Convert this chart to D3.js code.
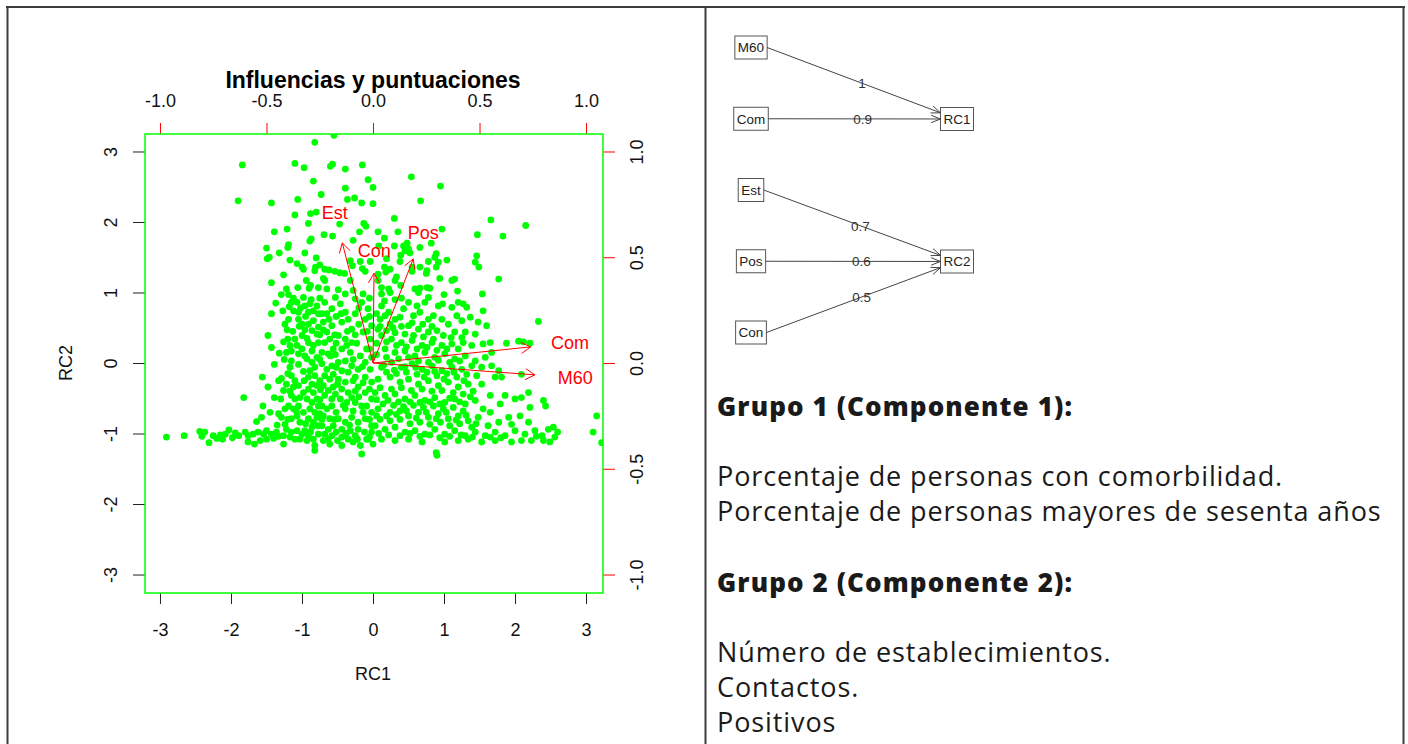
<!DOCTYPE html>
<html><head><meta charset="utf-8">
<script src="https://cdn.jsdelivr.net/npm/d3@7"></script>
<style>body{margin:0;background:#fff}svg{display:block}</style>
</head><body>
<svg id="c" width="1408" height="744"></svg>
<script>
// ---------------- data ----------------
const chartTitle = "Influencias y puntuaciones";
const xTitle = "RC1", yTitle = "RC2";
const scoreTicks = [-3, -2, -1, 0, 1, 2, 3];
const loadTicks = [-1.0, -0.5, 0.0, 0.5, 1.0];
const variables = ["M60", "Com", "Est", "Pos", "Con"];
const loadRC1 = [0.95, 0.925, -0.18, 0.236, 0.006];
const loadRC2 = [-0.07, 0.095, 0.71, 0.615, 0.53];
const factors = ["RC1", "RC2"];
const pathFrom = ["M60", "Com", "Est", "Pos", "Con"];
const pathTo = ["RC1", "RC1", "RC2", "RC2", "RC2"];
const pathWeight = [1, 0.9, 0.7, 0.6, 0.5];
const textLines = ["Grupo 1 (Componente 1):", "", "Porcentaje de personas con comorbilidad.", "Porcentaje de personas mayores de sesenta años", "", "Grupo 2 (Componente 2):", "", "Número de establecimientos.", "Contactos.", "Positivos"];
const textBold = [true, false, false, false, false, true, false, false, false, false];
// scores [RC1, RC2]
const scores = [
[-0.82,3.13],[-0.55,3.23],[-1.84,2.81],[-1.10,2.83],[-0.97,2.77],[-0.60,2.79],[-0.57,2.82],[-0.39,2.75],[-0.15,2.81],[-0.84,2.58],[-0.07,2.60],[-0.39,2.48],[-0.73,2.39],[0.00,2.49],[-1.90,2.30],[-1.43,2.27],[-1.06,2.32],[-0.36,2.32],[-0.26,2.34],[-0.16,2.27],[0.00,2.26],[-1.10,2.10],[-0.88,2.12],[-0.80,2.14],[-0.47,1.97],[-0.13,1.98],[-0.10,1.94],[-0.91,1.98],[-1.39,1.86],[-1.21,1.90],[-0.69,1.82],[-0.57,1.80],[-0.19,1.86],[-0.89,1.73],[-0.87,1.76],[-0.28,1.74],[-1.50,1.63],[-1.19,1.68],[-1.20,1.64],[-1.32,1.56],[-0.96,1.56],[-1.49,1.48],[-1.46,1.50],[-1.17,1.46],[-0.80,1.49],[-1.07,1.41],[-1.00,1.36],[-0.98,1.33],[-1.26,1.25],[-1.43,1.14],[-0.81,1.36],[-0.82,1.31],[-0.75,1.39],[-0.68,1.33],[-0.62,1.32],[-0.54,1.30],[-0.47,1.28],[-0.40,1.27],[-0.32,1.45],[-0.29,1.38],[-0.18,1.44],[-0.15,1.34],[-0.11,1.30],[-0.04,1.44],[-0.70,1.20],[-0.68,1.17],[-0.94,1.17],[-0.88,1.10],[-1.06,1.07],[-1.22,1.05],[-1.29,0.97],[-1.19,0.97],[-0.90,1.06],[-0.77,1.07],[-0.65,1.05],[-0.49,1.04],[-0.32,1.17],[-0.28,1.03],[-0.39,0.98],[-0.14,0.98],
[0.54,2.64],[0.95,2.51],[0.67,2.30],[0.30,2.05],[1.66,2.03],[2.15,1.95],[0.07,1.86],[0.35,1.86],[0.97,1.90],[1.47,1.82],[1.83,1.80],[0.16,1.77],[0.82,1.70],[0.08,1.66],[0.30,1.66],[0.43,1.66],[0.48,1.70],[0.50,1.62],[0.45,1.59],[0.52,1.56],[0.66,1.64],[0.39,1.53],[0.38,1.44],[0.19,1.48],[0.89,1.55],[0.87,1.50],[0.92,1.43],[1.04,1.46],[0.78,1.44],[1.46,1.52],[1.44,1.43],[1.49,1.36],[0.16,1.36],[0.24,1.33],[0.18,1.29],[0.55,1.36],[0.55,1.30],[0.66,1.36],[0.76,1.31],[0.75,1.27],[0.89,1.36],[0.07,1.26],[0.07,1.17],[0.33,1.22],[0.31,1.17],[0.94,1.20],[1.11,1.17],[1.15,1.19],[1.77,1.19],[0.12,1.07],[0.22,1.05],[0.24,1.00],[0.12,0.98],[0.39,1.10],[0.59,1.05],[0.66,1.06],[0.76,1.07],[0.80,1.06],[0.64,1.00],[1.00,0.97],[0.78,0.93],[1.19,1.02],[1.54,0.98],
[-2.91,-1.05],[-2.66,-1.03],[-2.44,-0.97],[-2.37,-0.98],[-2.41,-1.04],[-2.31,-1.13],[-2.25,-1.03],[-2.15,-1.02],[-2.08,-1.01],[-2.12,-1.08],[-2.03,-0.95],[-1.94,-0.99],[-1.89,-1.03],[-1.80,-0.98],[-1.76,-1.03],[-1.69,-1.01],[-1.62,-0.98],[-1.54,-1.01],[-1.50,-0.96],[-1.43,-1.01],[-1.36,-0.98],[-1.33,-1.04],[-1.26,-1.03],[-1.82,-0.49],[-1.64,-0.83],[-1.57,-0.77],[-1.76,-1.12],[-1.67,-1.15],[-1.59,-1.10],[-1.55,-0.61],[-1.56,-0.20],[-1.48,-0.34],[-1.48,0.39],[-1.43,0.70],[-1.43,0.22],[-1.37,0.85],[-1.39,-0.02],[-1.39,-0.49],[-1.32,0.14],[-1.33,-0.25],[-1.29,-0.22],[-1.26,-0.39],[-1.27,0.74],[-1.24,0.55],[-1.21,0.47],[-1.20,0.34],[-1.22,0.15],[-1.15,0.17],[-1.17,-0.06],[-1.15,0.03],[-1.30,-0.51],[-1.24,-0.65],[-1.33,-0.72],[-1.29,-0.77],[-1.24,-0.87],[-1.26,-1.15],[-1.15,0.86],[-1.07,0.86],[-1.12,0.74],[-1.05,0.72],[-1.05,0.62],[-1.00,0.55],[-1.04,0.52],[-1.10,0.34],[-1.00,0.39],[-1.07,0.25],[-1.00,0.20],[-1.05,0.13],[-1.15,-0.18],[-1.10,-0.25],[-1.12,-0.34],[-1.05,-0.32],[-1.15,-0.46],[-1.10,-0.51],[-1.03,-0.49],[-1.19,-0.61],[-1.12,-0.65],[-1.05,-0.61],[-1.15,-0.79],[-1.07,-0.75],[-1.03,-0.84],[-1.22,-0.94],[-1.15,-0.98],[-1.07,-0.96],[-1.00,-1.01],[-0.96,-0.96],
[-0.96,0.81],[-0.89,0.84],[-0.91,0.72],[-0.84,0.74],[-0.79,0.81],[-0.77,0.70],[-0.91,0.55],[-0.84,0.60],[-0.86,0.46],[-0.77,0.51],[-0.79,0.41],[-0.91,0.29],[-0.84,0.25],[-0.77,0.29],[-0.86,0.17],[-0.93,0.06],[-0.86,0.01],[-0.79,0.08],[-0.82,-0.06],[-0.89,-0.11],[-0.91,-0.20],[-0.82,-0.18],[-0.86,-0.30],[-0.79,-0.32],[-0.91,-0.37],[-0.84,-0.42],[-0.93,-0.51],[-0.86,-0.56],[-0.79,-0.51],[-0.89,-0.65],[-0.82,-0.70],[-0.77,-0.61],[-0.91,-0.79],[-0.84,-0.84],[-0.79,-0.77],[-0.86,-0.91],[-0.77,-0.89],[-0.91,-1.03],[-0.84,-1.08],[-0.77,-1.01],[-0.82,-1.17],[-0.82,-1.24],
[-0.68,0.86],[-0.65,0.70],[-0.58,0.77],[-0.70,0.58],[-0.58,0.53],[-0.65,0.44],[-0.68,0.29],[-0.61,0.34],[-0.72,0.15],[-0.63,0.13],[-0.56,0.20],[-0.72,-0.01],[-0.65,-0.09],[-0.58,-0.04],[-0.68,-0.18],[-0.61,-0.23],[-0.56,-0.16],[-0.70,-0.32],[-0.63,-0.39],[-0.56,-0.34],[-0.68,-0.46],[-0.58,-0.51],[-0.72,-0.61],[-0.65,-0.65],[-0.58,-0.61],[-0.70,-0.75],[-0.61,-0.79],[-0.72,-0.89],[-0.63,-0.94],[-0.56,-0.89],[-0.68,-1.01],[-0.58,-1.03],[-0.61,-1.15],
[-0.46,0.84],[-0.39,0.72],[-0.44,0.58],[-0.35,0.62],[-0.30,0.48],[-0.49,0.39],[-0.39,0.34],[-0.30,0.29],[-0.44,0.20],[-0.32,0.15],[-0.49,0.01],[-0.39,0.03],[-0.30,-0.04],[-0.44,-0.11],[-0.35,-0.13],[-0.21,-0.09],[-0.49,-0.23],[-0.39,-0.27],[-0.28,-0.25],[-0.44,-0.37],[-0.35,-0.42],[-0.21,-0.34],[-0.46,-0.51],[-0.37,-0.56],[-0.30,-0.49],[-0.39,-0.65],[-0.28,-0.68],[-0.16,-0.61],[-0.49,-0.79],[-0.39,-0.84],[-0.30,-0.77],[-0.21,-0.84],[-0.44,-0.94],[-0.32,-0.96],[-0.21,-0.94],[-0.44,-1.05],[-0.35,-1.08],[-0.25,-1.03],[-0.44,-1.17],[-0.18,-1.17],[-0.16,-1.29],[-0.09,-1.08],
[-0.16,0.86],[-0.07,0.77],[-0.11,0.62],[-0.02,0.53],[-0.14,0.44],[-0.04,0.34],[-0.09,0.20],[-0.02,0.08],[-0.11,0.01],[-0.04,-0.09],[-0.11,-0.20],[-0.02,-0.27],[-0.11,-0.42],[-0.02,-0.51],[-0.09,-0.61],[-0.02,-0.70],[-0.11,-0.79],[-0.02,-0.89],[-0.02,-0.98],[-0.07,-1.08],[0.00,-1.15],
[-1.12,0.92],[-0.98,0.93],[-0.75,0.92],[-0.53,0.93],[-0.25,0.91],[-0.05,0.92],[-1.19,0.62],[-0.95,0.66],[-0.72,0.70],[-0.52,0.66],[-0.25,0.70],[-0.05,0.66],[-1.17,0.25],[-0.96,0.10],[-0.75,0.40],[-0.52,0.28],[-0.25,0.40],[-0.18,0.10],[-1.22,-0.30],[-0.98,-0.12],[-0.75,-0.25],[-0.52,-0.06],[-0.25,-0.20],[-0.05,-0.37],[-1.20,-0.80],[-0.98,-0.70],[-0.75,-0.72],[-0.52,-0.70],[-0.25,-0.56],[-0.05,-0.80],[-1.10,-1.08],[-0.93,-1.10],[-0.70,-1.10],[-0.52,-0.98],[-0.28,-1.12],[-0.12,-0.98],[-1.35,-0.88],[-1.45,-0.70],
[-1.18,0.80],[-1.02,0.78],[-0.87,0.90],[-0.62,0.62],[-0.45,0.70],[-0.20,0.78],[-0.08,0.45],[-1.13,0.45],[-0.96,0.47],[-0.70,0.47],[-0.54,0.40],[-0.36,0.45],[-0.20,0.55],[-1.26,0.30],[-0.93,0.35],[-0.60,0.10],[-0.37,0.25],[-0.23,0.28],[-0.05,0.20],[-1.25,0.05],[-1.05,-0.02],[-0.75,0.05],[-0.53,0.12],[-0.28,0.05],[-0.15,-0.05],[-1.20,-0.15],[-0.97,-0.25],[-0.74,-0.38],[-0.50,-0.30],[-0.25,-0.40],[-0.14,-0.28],[-1.17,-0.40],[-0.98,-0.42],[-0.75,-0.52],[-0.53,-0.44],[-0.42,-0.60],[-0.20,-0.48],[-1.08,-0.68],[-0.95,-0.86],[-0.72,-0.80],[-0.54,-0.80],[-0.33,-0.88],[-0.14,-0.70],[-1.17,-1.05],[-1.03,-1.08],[-0.88,-0.98],[-0.63,-1.08],[-0.50,-1.10],[-0.38,-1.00],[-0.22,-1.08],[-0.05,-1.05],[-1.40,-1.07],[-1.50,-1.08],[-1.98,-1.06],[-2.20,-1.07],
[2.33,0.59],[1.88,0.28],[2.05,0.31],[2.12,0.30],[2.21,0.28],[3.15,-0.75],[3.10,-0.98],[3.22,-1.13],[0.89,-1.27],[0.90,-1.31],[0.92,0.81],[1.11,0.79],[1.27,0.84],[1.32,0.79],[1.55,0.74],[0.73,0.86],[0.66,0.72],[0.78,0.62],[0.85,0.67],[0.50,0.86],[0.43,0.77],[0.38,0.65],[0.12,0.81],[0.22,0.72],[0.10,0.62],[0.24,0.55],[0.97,0.62],[1.06,0.55],[1.18,0.67],[1.25,0.60],[1.37,0.65],[1.48,0.58],[1.60,0.53],[0.50,0.53],[0.64,0.48],[0.78,0.44],[0.90,0.46],[0.99,0.39],[1.15,0.44],[1.30,0.44],[1.44,0.41],[0.12,0.39],[0.26,0.34],[0.40,0.29],[0.55,0.32],[0.69,0.25],[0.83,0.29],[0.97,0.25],[1.11,0.27],[1.27,0.29],[1.39,0.25],[1.55,0.27],[1.65,0.29],[0.17,0.20],[0.31,0.15],[0.45,0.17],[0.59,0.10],[0.73,0.15],[0.87,0.08],[1.01,0.13],[1.15,0.06],[1.30,0.10],[1.44,0.03],[1.58,0.08],[1.67,0.15],
[0.12,-0.06],[0.26,0.01],[0.40,-0.06],[0.55,-0.01],[0.69,-0.09],[0.83,-0.04],[0.97,-0.11],[1.11,-0.06],[1.25,-0.09],[1.39,-0.04],[1.53,-0.06],[1.67,-0.04],[1.77,-0.11],[1.72,-0.20],[1.81,-0.20],[2.09,-0.16],
[0.07,-0.23],[0.24,-0.20],[0.38,-0.27],[0.50,-0.23],[0.64,-0.30],[0.78,-0.25],[0.92,-0.32],[1.06,-0.27],[1.20,-0.34],[1.34,-0.30],[1.53,-0.30],
[0.03,-0.42],[0.17,-0.46],[0.31,-0.44],[0.45,-0.51],[0.59,-0.46],[0.73,-0.53],[0.87,-0.49],[1.01,-0.56],[1.15,-0.51],[1.30,-0.58],[1.44,-0.53],[1.65,-0.46],[1.86,-0.46],[2.00,-0.51],[2.09,-0.49],[2.19,-0.42],[2.40,-0.53],[2.43,-0.61],
[0.07,-0.65],[0.24,-0.70],[0.38,-0.68],[0.50,-0.75],[0.64,-0.70],[0.78,-0.77],[0.92,-0.72],[1.06,-0.79],[1.20,-0.75],[1.34,-0.82],[1.48,-0.77],[1.65,-0.70],[1.77,-0.84],[1.91,-0.77],[2.07,-0.75],[2.21,-0.63],
[0.03,-0.89],[0.17,-0.94],[0.31,-0.91],[0.45,-0.98],[0.59,-0.96],[0.73,-1.01],[0.87,-0.94],[1.01,-1.01],[1.15,-0.96],[1.30,-1.03],[1.44,-0.98],[1.58,-1.03],[1.72,-0.98],[1.86,-1.03],[2.00,-0.96],[2.14,-1.01],[2.28,-0.96],[2.38,-1.03],[2.47,-0.94],[2.54,-0.91],[2.56,-1.05],[2.49,-1.12],[2.40,-1.10],
[0.12,-1.08],[0.31,-1.10],[0.50,-1.08],[0.69,-1.12],[1.01,-1.12],[1.20,-1.10],[1.34,-1.08],[1.53,-1.12],[1.72,-1.10],[1.95,-1.12],[2.09,-1.10],[2.23,-1.10],
[0.19,-0.13],[0.33,-0.15],[0.47,-0.13],[0.62,-0.16],[0.76,-0.13],[0.90,-0.18],[1.04,-0.15],[1.18,-0.20],[1.32,-0.16],[1.46,-0.18],
[0.10,-0.35],[0.26,-0.37],[0.40,-0.35],[0.54,-0.39],[0.69,-0.37],[0.83,-0.40],[0.97,-0.39],[1.13,-0.42],[1.27,-0.44],[1.41,-0.40],
[0.14,-0.58],[0.29,-0.60],[0.43,-0.62],[0.57,-0.60],[0.71,-0.63],[0.85,-0.61],[0.99,-0.65],[1.13,-0.63],[1.27,-0.68],[1.55,-0.65],[1.79,-0.58],
[0.10,-0.80],[0.24,-0.82],[0.38,-0.80],[0.52,-0.86],[0.66,-0.84],[0.80,-0.87],[0.95,-0.84],[1.08,-0.89],[1.22,-0.86],[1.39,-0.91],[1.62,-0.89],[1.95,-0.87],[2.19,-0.84],
[0.19,0.08],[0.36,0.06],[0.50,0.08],[0.64,0.03],[0.78,0.01],[0.92,0.04],[1.08,0.01],[1.22,0.03],
[0.05,0.28],[0.19,0.30],[0.33,0.25],[0.47,0.23],[0.62,0.20],[0.76,0.22],[0.90,0.18],[1.04,0.20],[1.20,0.20],
[0.07,0.48],[0.19,0.46],[0.31,0.43],[0.45,0.41],[0.57,0.39],[0.71,0.37],[0.85,0.34],
[0.05,0.70],[0.17,0.67],[0.31,0.62],[0.57,0.67],[0.31,0.90],[0.62,0.81],
[0.05,0.12],[0.15,-0.03],[0.30,-0.10],[0.45,-0.05],[0.60,-0.06],[0.72,-0.20],[0.87,-0.12],[1.00,-0.23],[1.14,-0.13],[1.28,-0.25],
[0.05,-0.52],[0.21,-0.53],[0.36,-0.55],[0.52,-0.55],[0.66,-0.56],[0.80,-0.55],[0.94,-0.58],[1.08,-0.50],[1.22,-0.55],[1.37,-0.48],
[0.05,-0.75],[0.19,-0.75],[0.33,-0.73],[0.47,-0.68],[0.61,-0.78],[0.75,-0.70],[0.89,-0.79],[1.03,-0.70],[1.17,-0.81],[1.31,-0.74],[1.45,-0.86],
[0.08,-1.00],[0.22,-1.02],[0.38,-1.03],[0.52,-1.00],[0.66,-1.04],[0.80,-1.02],[0.94,-1.06],[1.08,-1.04],[1.24,-1.02],[1.40,-1.05],[1.65,-1.05],[1.80,-1.06],[2.30,-1.04],[2.60,-0.98],
[0.10,0.52],[0.28,0.50],[0.40,0.52],[0.55,0.57],[0.70,0.55],[0.83,0.52],[1.10,0.36],[1.25,0.36],[0.16,0.88],[0.40,0.92],[0.98,0.84],[1.20,0.86]
];

// ---------------- drawing ----------------
const svg = d3.select("#c");
const FONT = "'Liberation Sans', Arial, sans-serif";
const box = {left: 145, right: 603, top: 134, bottom: 593};
const hyph = f => d => f(d).replace("\u2212", "-");

// frame
const frame = svg.append("g").attr("stroke", "#3c3c3c").attr("stroke-width", 2).attr("fill", "none");
frame.append("line").attr("x1", 6).attr("x2", 1405).attr("y1", 7).attr("y2", 7);
frame.append("line").attr("x1", 7.5).attr("x2", 7.5).attr("y1", 6).attr("y2", 744);
frame.append("line").attr("x1", 705.5).attr("x2", 705.5).attr("y1", 6).attr("y2", 744);
frame.append("line").attr("x1", 1403.5).attr("x2", 1403.5).attr("y1", 6).attr("y2", 744);

const x = d3.scaleLinear().domain([-3.211, 3.239]).range([box.left, box.right]);
const y = d3.scaleLinear().domain([-3.262, 3.248]).range([box.bottom, box.top]);
const xl = d3.scaleLinear().domain(x.domain().map(d => d / 3)).range(x.range());
const yl = d3.scaleLinear().domain(y.domain().map(d => d / 3)).range(y.range());

svg.append("clipPath").attr("id", "clip").append("rect")
  .attr("x", box.left).attr("y", box.top).attr("width", box.right - box.left).attr("height", box.bottom - box.top);

// points
svg.append("g").attr("clip-path", "url(#clip)").selectAll("circle").data(scores).join("circle")
  .attr("cx", d => x(d[0])).attr("cy", d => y(d[1])).attr("r", 3.4).attr("fill", "#00ff00");

// axes
function styleAxis(g, col) {
  g.select(".domain").remove();
  g.selectAll(".tick line").attr("stroke", col).attr("stroke-width", 1);
  g.selectAll(".tick text").attr("fill", "#111").attr("font-family", FONT).attr("font-size", 18);
}
const gb = svg.append("g").attr("transform", `translate(0,${box.bottom})`)
  .call(d3.axisBottom(x).tickValues(scoreTicks).tickSize(11).tickPadding(19.5).tickFormat(hyph(d3.format("d"))));
styleAxis(gb, "#222");
const gt = svg.append("g").attr("transform", `translate(0,${box.top})`)
  .call(d3.axisTop(xl).tickValues(loadTicks).tickSize(11).tickPadding(16.5).tickFormat(hyph(d3.format(".1f"))));
styleAxis(gt, "#ff0000");
const gleft = svg.append("g").attr("transform", `translate(${box.left},0)`)
  .call(d3.axisLeft(y).tickValues(scoreTicks).tickSize(12).tickFormat(hyph(d3.format("d"))));
styleAxis(gleft, "#222");
gleft.selectAll(".tick text").attr("x", null).attr("dy", null).attr("text-anchor", "middle")
  .attr("transform", "translate(-28,0) rotate(-90)");
const gr = svg.append("g").attr("transform", `translate(${box.right},0)`)
  .call(d3.axisRight(yl).tickValues(loadTicks).tickSize(12).tickFormat(hyph(d3.format(".1f"))));
styleAxis(gr, "#ff0000");
gr.selectAll(".tick text").attr("x", null).attr("dy", null).attr("text-anchor", "middle")
  .attr("transform", "translate(39.5,0) rotate(-90)");

// plot box
svg.append("rect").attr("x", box.left).attr("y", box.top).attr("width", box.right - box.left)
  .attr("height", box.bottom - box.top).attr("fill", "none").attr("stroke", "#00ff00").attr("stroke-width", 1.5);

// titles
svg.append("text").attr("x", x(0)).attr("y", 88).attr("text-anchor", "middle").attr("font-family", FONT)
  .attr("font-weight", "bold").attr("font-size", 23).attr("fill", "#000").text(chartTitle);
svg.append("text").attr("x", x(0)).attr("y", 680).attr("text-anchor", "middle").attr("font-family", FONT)
  .attr("font-size", 18).attr("fill", "#111").text(xTitle);
svg.append("text").attr("transform", `translate(71.5,${y(0)}) rotate(-90)`).attr("text-anchor", "middle")
  .attr("font-family", FONT).attr("font-size", 18).attr("fill", "#111").text(yTitle);

// loading arrows
const arrows = svg.append("g").attr("stroke", "#ff0000").attr("stroke-width", 1).attr("fill", "none");
variables.forEach((v, i) => {
  const x0 = xl(0), y0 = yl(0);
  const x1 = xl(loadRC1[i] * 0.8), y1 = yl(loadRC2[i] * 0.8);
  arrows.append("line").attr("x1", x0).attr("y1", y0).attr("x2", x1).attr("y2", y1);
  const ang = Math.atan2(y1 - y0, x1 - x0), L = 11, a = Math.PI / 6;
  arrows.append("path").attr("d",
    `M${x1 - L * Math.cos(ang - a)},${y1 - L * Math.sin(ang - a)}L${x1},${y1}L${x1 - L * Math.cos(ang + a)},${y1 - L * Math.sin(ang + a)}`);
  svg.append("text").attr("x", xl(loadRC1[i])).attr("y", yl(loadRC2[i])).attr("dy", "0.36em")
    .attr("text-anchor", "middle").attr("font-family", FONT).attr("font-size", 18).attr("fill", "#ff0000").text(v);
});

// ---------------- path diagram ----------------
const dg = svg.append("g");
const yLeft = d3.scalePoint().domain(variables).range([47.5, 332.5]);
const yFac = d3.scalePoint().domain(factors).range([119, 261.5]);
const xLeftC = 751, xFacC = 957, bh = 23;
function node(label, cx, cy) {
  const t = dg.append("text").attr("x", cx).attr("y", cy).attr("dy", "0.36em").attr("text-anchor", "middle")
    .attr("font-family", FONT).attr("font-size", 13.5).attr("fill", "#222").text(label);
  const w = t.node().getComputedTextLength() + 6;
  dg.insert("rect", "text").attr("x", cx - w / 2).attr("y", cy - bh / 2).attr("width", w).attr("height", bh)
    .attr("fill", "#fff").attr("stroke", "#555").attr("stroke-width", 1);
  return w;
}
const facW = {};
factors.forEach(f => { facW[f] = node(f, xFacC, yFac(f)); });
pathFrom.forEach((v, i) => {
  const w = node(v, xLeftC, yLeft(v));
  const sx = xLeftC + w / 2, sy = yLeft(v);
  const fx = xFacC, fy = yFac(pathTo[i]);
  const ex = fx - facW[pathTo[i]] / 2;
  const ey = sy + (fy - sy) * (ex - sx) / (fx - sx);
  dg.append("line").attr("x1", sx).attr("y1", sy).attr("x2", ex).attr("y2", ey)
    .attr("stroke", "#444").attr("stroke-width", 1);
  const ang = Math.atan2(ey - sy, ex - sx), L = 10, a = 0.38;
  dg.append("path").attr("d",
    `M${ex - L * Math.cos(ang - a)},${ey - L * Math.sin(ang - a)}L${ex},${ey}L${ex - L * Math.cos(ang + a)},${ey - L * Math.sin(ang + a)}`)
    .attr("fill", "none").attr("stroke", "#444").attr("stroke-width", 1);
  dg.append("text").attr("x", (sx + fx) / 2).attr("y", (sy + fy) / 2).attr("dy", "0.36em").attr("text-anchor", "middle")
    .attr("font-family", FONT).attr("font-size", 13.5).attr("fill", "#333").text(d3.format("~g")(pathWeight[i]));
});

// ---------------- text block ----------------
const lineY = d3.scaleLinear().domain([0, textLines.length - 1]).range([416, 732]);
textLines.forEach((s, i) => {
  if (!s) return;
  svg.append("text").attr("x", 717).attr("y", lineY(i))
    .attr("font-family", "'Open Sans', sans-serif").attr("font-size", textBold[i] ? 26 : 27)
    .attr("letter-spacing", textBold[i] ? 1.1 : 0.9)
    .attr("font-weight", textBold[i] ? 800 : 400).attr("fill", "#1a1a1a").text(s);
});
</script>
</body></html>
